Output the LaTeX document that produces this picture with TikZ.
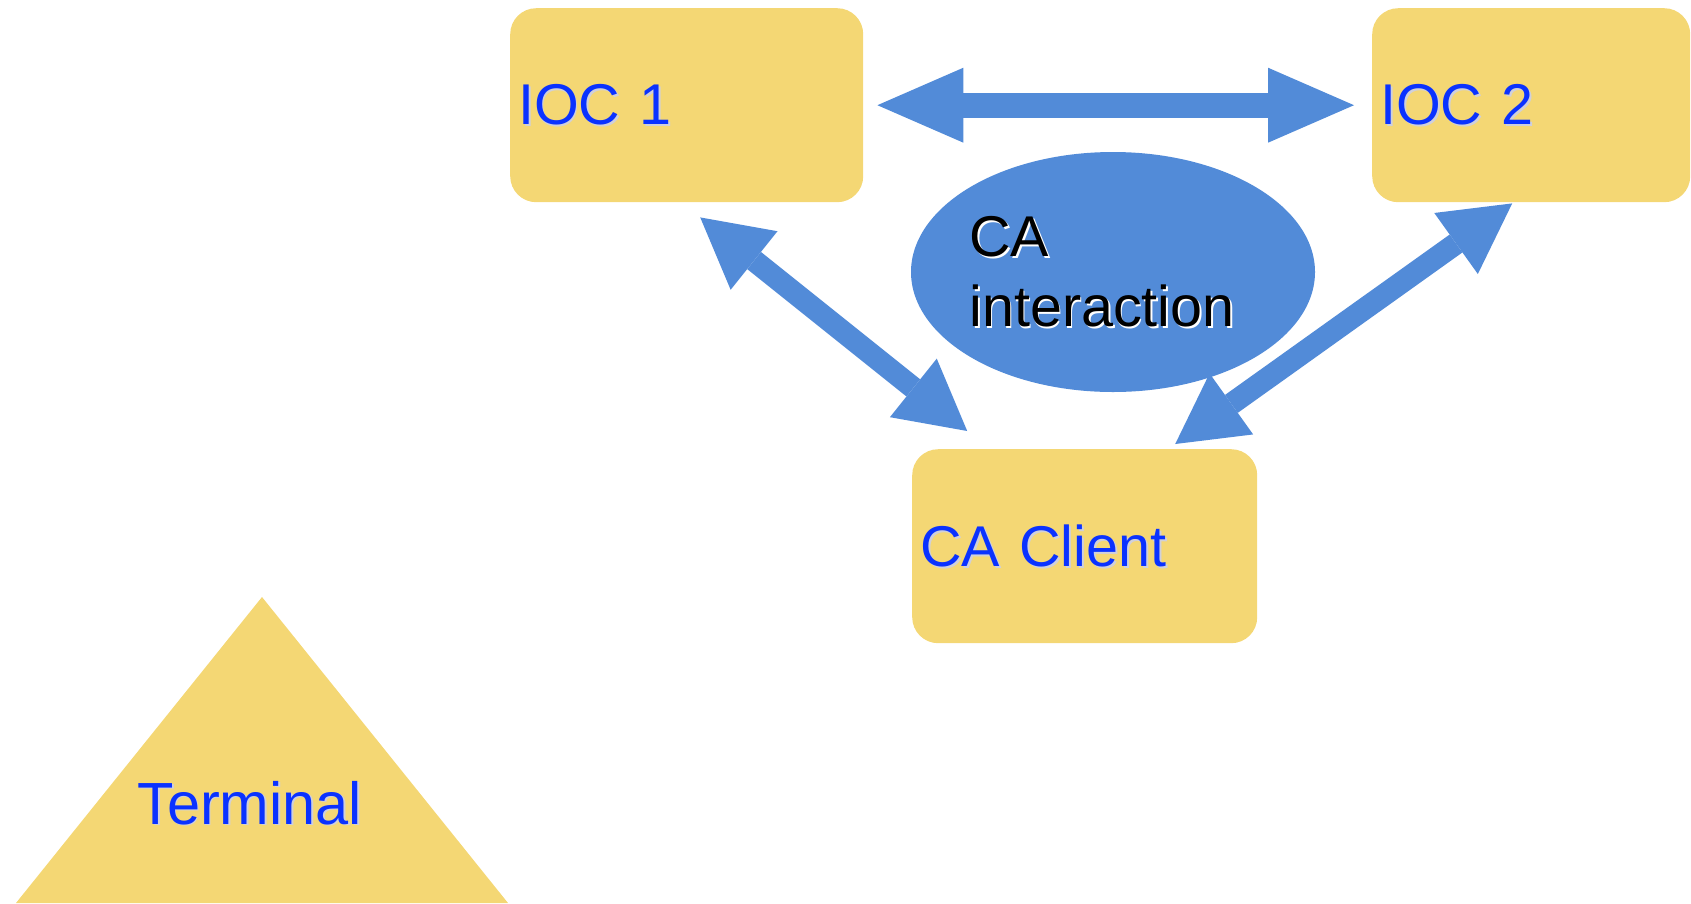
\documentclass[tikz,border=0pt]{standalone}
\usepackage{fontspec}
\setmainfont{Liberation Sans}
\usetikzlibrary{arrows.meta,shapes.geometric}
\definecolor{boxyellow}{HTML}{F4D774}
\definecolor{cablue}{HTML}{528BD8}
\definecolor{labelblue}{HTML}{0A32FF}
\definecolor{shadowgray}{HTML}{D0D0DA}
\newcommand{\shadowtext}[3]{\makebox[0pt][l]{\smash{\hspace{1.8pt}\raisebox{-1.8pt}{\textcolor{#2}{#3}}}}\textcolor{#1}{#3}}

\begin{document}
\begin{tikzpicture}[x=1pt,y=-1pt,
  font=\fontsize{57.5}{70}\selectfont,
  box/.style={rounded corners=26pt,fill=boxyellow,inner sep=0pt,inner xsep=8pt,
              text width=#1,minimum height=194pt,align=left,anchor=north west},
  caell/.style={ellipse,fill=cablue,minimum width=404pt,minimum height=240pt,inner sep=0pt},
  link/.style={line width=22pt,draw=cablue,
               {Triangle[length=69pt,width=75pt,line width=0pt]}-{Triangle[length=69pt,width=75pt,line width=0pt]}},
  peer/.style={line width=25pt,draw=cablue,
               {Triangle[length=86pt,width=75pt,line width=0pt]}-{Triangle[length=86pt,width=75pt,line width=0pt]}}]
\useasboundingbox (0,0) rectangle (1691,903);
% boxes
\node[box=337pt] (ioc1) at (510,8) {\shadowtext{labelblue}{shadowgray}{IOC 1}};
\node[box=302pt] (ioc2) at (1372,8) {\shadowtext{labelblue}{shadowgray}{IOC 2}};
\node[box=329pt] (client) at (912,449) {\shadowtext{labelblue}{shadowgray}{CA Client}};
\node[caell] (ca) at (1113,272) {};
\node[align=left,inner sep=0pt] (catext) at ([xshift=-11pt]ca.center)
  {\shadowtext{black}{white}{CA}\\\shadowtext{black}{white}{interaction}};
% terminal
\fill[boxyellow] (262,597) -- (508,903) -- (16,903) -- cycle;
\node[anchor=base west,inner sep=0pt,font=\fontsize{59.5}{70}\selectfont] (term) at (137,824)
  {\shadowtext{labelblue}{shadowgray}{Terminal}};
% links
\draw[peer,shorten <=14pt,shorten >=18pt] (ioc1) -- (ioc2);
\draw[link] ([xshift=13.5pt,yshift=-15pt]ioc1.south) -- ([xshift=-117.5pt,yshift=18pt]client.north);
\draw[link] ([xshift=-19pt,yshift=-1pt]ioc2.south) -- ([xshift=90.5pt,yshift=5pt]client.north);
\end{tikzpicture}
\end{document}
